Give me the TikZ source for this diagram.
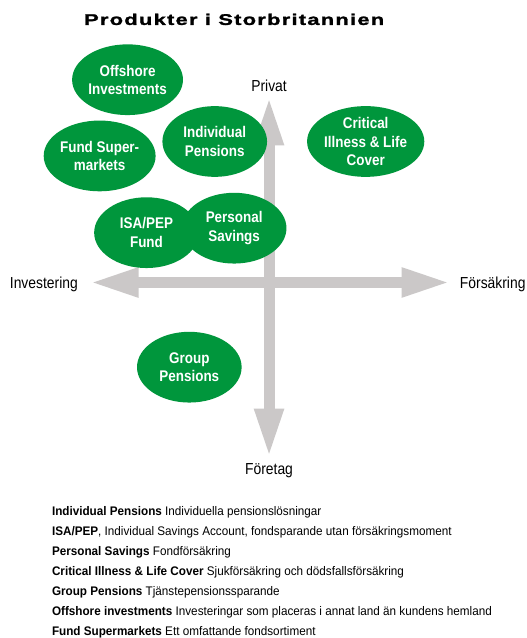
\documentclass[tikz,border=0pt]{standalone}
\usepackage{fontspec}
\setmainfont{Liberation Sans}
\newfontfamily\condfont{Liberation Sans}[FakeStretch=0.87]
\newfontfamily\legendfont{Liberation Sans}[FakeStretch=0.94]
\newfontfamily\titlefont{Liberation Sans}[FakeStretch=1.42,LetterSpace=8,FakeBold=1.6]
\usetikzlibrary{shapes.geometric,arrows.meta}
\definecolor{leafgreen}{RGB}{0,150,60}
\definecolor{axisgrey}{RGB}{203,200,200}

\begin{document}
\begin{tikzpicture}[x=1pt,y=-1pt,
  product/.style={ellipse, fill=leafgreen, text=white, inner sep=0pt,
    minimum width=105pt, minimum height=71pt, align=center,
    font=\condfont\bfseries\fontsize{15.5}{18.5}\selectfont},
  axis/.style={draw=axisgrey, line width=11pt,
    {Triangle[length=49pt,width=27pt]}-{Triangle[length=49pt,width=27pt]}},
  axislabel/.style={anchor=base, inner sep=0pt,
    font=\condfont\fontsize{16}{18}\selectfont},
  legendline/.style={anchor=base west, inner sep=0pt,
    font=\legendfont\fontsize{12.5}{15}\selectfont}
]
% canvas
\path[fill=white] (0,0) rectangle (528,638);

% title
\node[anchor=base, inner sep=0pt, font=\titlefont\bfseries\fontsize{15.5}{18}\selectfont]
  (title) at (235,25) {Produkter i Storbritannien};

% axes
\coordinate (top) at (270,97);
\coordinate (bottom) at (270,459);
\coordinate (left) at (90,283.5);
\coordinate (right) at (452,283.5);
\draw[axis] (top) -- (bottom);
\draw[axis] (left) -- (right);

\node[axislabel] (privat) at (270,91.5) {Privat};
\node[axislabel] (foretag) at (270,476) {Företag};
\node[axislabel] (invest) at (44,289.3) {Investering};
\node[axislabel] (forsak) at (494.5,289.3) {Försäkring};

% products
\node[product] (offshore) at (128,80) {Offshore\\Investments};
\node[product] (fundsuper) at (100,156.5) {Fund Super-\\markets};
\node[product] (indiv) at (215.5,142) {Individual\\Pensions};
\node[product] (critical) at (367,142) {Critical\\Illness \& Life\\Cover};
\node[product] (isa) at (147,233.5) {ISA/PEP\\Fund};
\node[product] (personal) at (235,229) {Personal\\Savings};
\node[product] (group) at (190,368.5) {Group\\Pensions};

% legend
\node[legendline] (l1) at (52,517.7) {\textbf{Individual Pensions} Individuella pensionslösningar};
\node[legendline] (l2) at (52,537.7) {\textbf{ISA/PEP}, Individual Savings Account, fondsparande utan försäkringsmoment};
\node[legendline] (l3) at (52,557.7) {\textbf{Personal Savings} Fondförsäkring};
\node[legendline] (l4) at (52,577.7) {\textbf{Critical Illness \& Life Cover} Sjukförsäkring och dödsfallsförsäkring};
\node[legendline] (l5) at (52,597.7) {\textbf{Group Pensions} Tjänstepensionssparande};
\node[legendline] (l6) at (52,617.7) {\textbf{Offshore investments} Investeringar som placeras i annat land än kundens hemland};
\node[legendline] (l7) at (52,637.7) {\textbf{Fund Supermarkets} Ett omfattande fondsortiment};

\useasboundingbox (0,0) rectangle (528,638);
\end{tikzpicture}
\end{document}
